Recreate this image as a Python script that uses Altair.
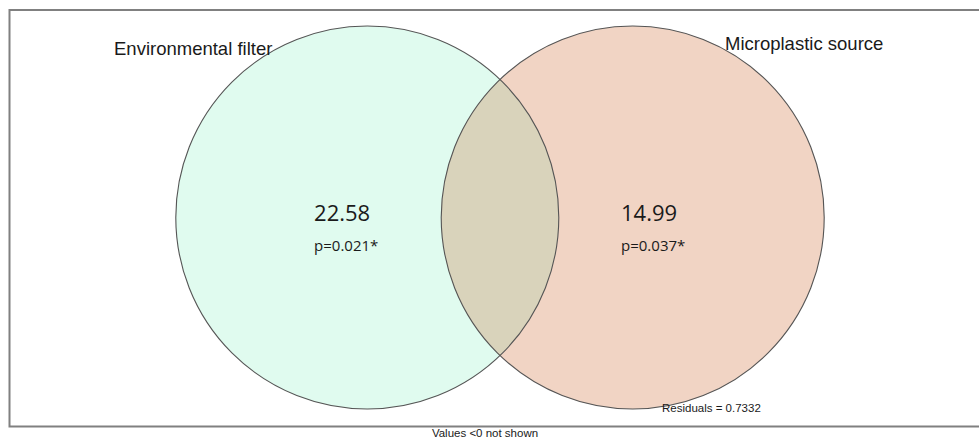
import math
import altair as alt
import pandas as pd

# Two-set Euler diagram: unique variance explained by each set
set_names = ["Environmental filter", "Microplastic source"]
unique_share = [22.58, 14.99]
p_labels = ["p=0.021*", "p=0.037*"]
residuals = 0.7332
footnote = "Values <0 not shown"

set_fills = ["#e0fbef", "#f1d4c4"]
overlap_fill = "#d9d3bb"
outline = "#555555"

# Layout in circle-radius units: equal circles, centres CENTER_GAP apart
RADIUS = 1.0
CENTER_GAP = 1.386
label_anchor_x = [-0.971, 0.632]      # left edge of each region's label
title_px = [(114, 55), (725, 50)]     # set names, placed at the top

W, H = 979, 438
PX_PER_UNIT = 191.5
MID_X, MID_Y = 500.0, 217.5

x_scale = alt.Scale(domain=[-MID_X / PX_PER_UNIT, (W - MID_X) / PX_PER_UNIT], nice=False, zero=False)
y_scale = alt.Scale(domain=[-(H - MID_Y) / PX_PER_UNIT, MID_Y / PX_PER_UNIT], nice=False, zero=False)

centres = [-CENTER_GAP / 2, CENTER_GAP / 2]
circles = pd.DataFrame({
    "set": set_names,
    "cx": centres,
    "cy": [0.0, 0.0],
    "fill": set_fills,
})

# Lens shared by both circles, as a custom symbol in the [-1, 1] box
half_chord = math.sqrt(RADIUS ** 2 - (CENTER_GAP / 2) ** 2)
arc_r = RADIUS / half_chord
lens_path = f"M0,-1A{arc_r:.4f},{arc_r:.4f},0,0,1,0,1A{arc_r:.4f},{arc_r:.4f},0,0,1,0,-1Z"
lens = pd.DataFrame({"cx": [0.0], "cy": [0.0]})

circle_size = (2 * RADIUS * PX_PER_UNIT) ** 2
lens_size = (2 * half_chord * PX_PER_UNIT) ** 2

labels = pd.DataFrame({
    "set": set_names,
    "value": [f"{v:.2f}" for v in unique_share],
    "p": p_labels,
    "lx": label_anchor_x,
    "cy": [0.0, 0.0],
})

titles = pd.DataFrame({
    "set": set_names,
    "tx": [p[0] for p in title_px],
    "ty": [p[1] for p in title_px],
})

X = lambda f: alt.X(f, type="quantitative", scale=x_scale, axis=None)
Y = lambda f: alt.Y(f, type="quantitative", scale=y_scale, axis=None)

frame = alt.Chart(pd.DataFrame({"k": [0]})).mark_rect(
    filled=False, stroke="#808080", strokeWidth=2
).encode(x=alt.value(9.5), x2=alt.value(1000), y=alt.value(10), y2=alt.value(426.5))

fills = alt.Chart(circles).mark_point(
    shape="circle", filled=True, size=circle_size, opacity=1, strokeWidth=0
).encode(x=X("cx"), y=Y("cy"), color=alt.Color("fill:N", scale=None))

overlap = alt.Chart(lens).mark_point(
    shape=lens_path, filled=True, size=lens_size, opacity=1, strokeWidth=0, fill=overlap_fill
).encode(x=X("cx"), y=Y("cy"))

rings = alt.Chart(circles).mark_point(
    shape="circle", filled=False, size=circle_size, opacity=1, stroke=outline, strokeWidth=1.1
).encode(x=X("cx"), y=Y("cy"))

values = alt.Chart(labels).mark_text(
    align="left", baseline="alphabetic", font="Open Sans", fontSize=22, color="#1a1a1a", dy=3.5
).encode(x=X("lx"), y=Y("cy"), text="value:N")

pvals = alt.Chart(labels).mark_text(
    align="left", baseline="alphabetic", font="Open Sans", fontSize=15, color="#1a1a1a", dy=33.5
).encode(x=X("lx"), y=Y("cy"), text="p:N")

set_titles = alt.Chart(titles).mark_text(
    align="left", baseline="alphabetic", font="Liberation Sans", fontSize=18.5, color="#1a1a1a"
).encode(x=alt.X("tx:Q", scale=None), y=alt.Y("ty:Q", scale=None), text="set:N")

resid = alt.Chart(pd.DataFrame({"t": [f"Residuals = {residuals}"]})).mark_text(
    align="left", baseline="alphabetic", font="Liberation Sans", fontSize=11.5, color="#1a1a1a"
).encode(x=alt.value(662), y=alt.value(412), text="t:N")

note = alt.Chart(pd.DataFrame({"t": [footnote]})).mark_text(
    align="center", baseline="alphabetic", font="Liberation Sans", fontSize=11.5, color="#1a1a1a"
).encode(x=alt.value(485), y=alt.value(437), text="t:N")

chart = alt.layer(frame, fills, overlap, rings, values, pvals, set_titles, resid, note).properties(
    width=W, height=H, padding=0, autosize=alt.AutoSizeParams(type="none"), background="white"
).configure_view(stroke=None)

chart.save("out.html", embed_options={"renderer": "svg", "actions": False})
